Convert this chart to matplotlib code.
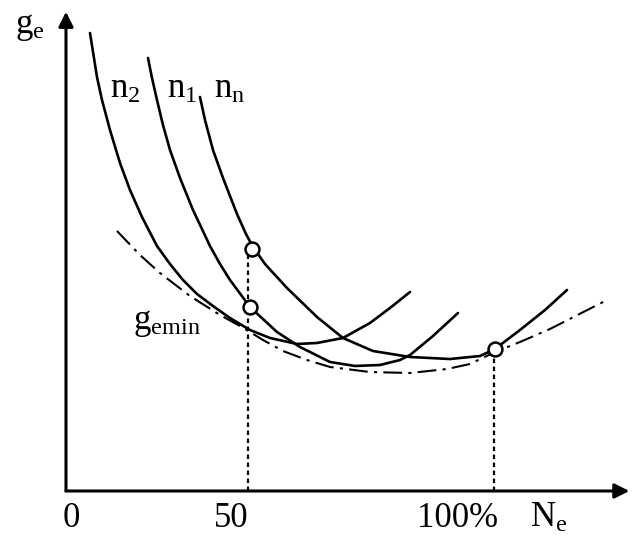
import matplotlib.pyplot as plt

plt.rcParams['font.family'] = ['Liberation Serif', 'DejaVu Serif']
plt.rcParams['mathtext.fontset'] = 'custom'
plt.rcParams['mathtext.rm'] = 'Liberation Serif'
plt.rcParams['mathtext.it'] = 'Liberation Serif'

# load Ne (%) and specific fuel consumption ge (relative units)
n2_x = [6.67, 8.61, 10.0, 12.22, 15.0, 17.78, 21.11, 25.28, 28.89, 32.5, 36.39, 40.83,
        45.56, 51.11, 56.67, 64.17, 69.72, 76.94, 84.44, 90.0, 95.56]
n2_y = [101.78, 92.0, 86.89, 80.22, 72.89, 66.89, 60.89, 54.44, 50.44, 46.89, 43.78, 41.11,
        38.44, 35.78, 34.0, 32.67, 32.89, 34.0, 37.33, 40.67, 44.22]

n1_x = [22.78, 23.89, 25.28, 26.94, 28.89, 31.67, 35.28, 40.0, 42.78, 45.56, 51.11, 58.61,
        65.0, 73.33, 80.28, 87.22, 92.78, 95.56, 101.94, 108.89]
n1_y = [96.22, 91.78, 86.89, 81.33, 75.78, 69.56, 62.44, 54.44, 50.44, 46.89, 40.89, 35.33,
        32.0, 28.67, 27.78, 28.0, 29.11, 30.22, 34.44, 39.56]

nn_x = [37.22, 38.61, 40.83, 43.61, 47.5, 50.0, 51.94, 55.28, 61.39, 69.72, 76.94, 85.28,
        95.56, 106.67, 115.0, 119.17, 126.11, 133.06, 139.17]
nn_y = [87.56, 82.44, 75.78, 69.56, 61.56, 57.11, 54.22, 50.44, 45.11, 38.67, 34.0, 31.11,
        29.78, 29.33, 30.0, 31.56, 35.78, 40.22, 44.67]

# envelope ge_min
env_x = [14.17, 20.56, 26.11, 34.44, 42.78, 48.33, 54.72, 60.28, 66.94, 73.33, 84.44,
         95.56, 105.83, 112.22, 119.17, 126.11, 134.44, 150.28]
env_y = [57.78, 52.44, 48.44, 43.33, 39.11, 36.67, 33.56, 31.11, 29.11, 27.56, 26.44,
         26.22, 27.11, 28.22, 30.89, 33.11, 36.0, 42.44]

pts_x = [51.67, 51.11, 119.17]
pts_y = [53.78, 40.89, 31.56]

drop_x = [50.6, 118.9]
drop_y = [53.78, 31.56]

fig = plt.figure(figsize=(6.34, 5.36), dpi=100)
ax = fig.add_axes([0, 0, 1, 1])
ax.set_xlim(-18.33, 157.78)
ax.set_ylim(-10.0, 109.11)
ax.axis('off')

# axes with arrows
arrow = dict(arrowstyle='-|>', lw=2.2, color='k', mutation_scale=22, shrinkA=0, shrinkB=0)
ax.annotate('', xy=(0, 106.5), xytext=(0, 0), arrowprops=arrow)
ax.annotate('', xy=(156.5, 0), xytext=(0, 0), arrowprops=arrow)

# drop lines
for x, y in zip(drop_x, drop_y):
    ax.plot([x, x], [0, y], color='k', lw=1.6, ls=(0, (2, 1.6)))

ax.plot(env_x, env_y, color='k', lw=1.5, ls=(0, (9, 3, 1.5, 3)))
for xs, ys in [(n2_x, n2_y), (n1_x, n1_y), (nn_x, nn_y)]:
    ax.plot(xs, ys, color='k', lw=1.9, solid_capstyle='round', solid_joinstyle='round')

ax.plot(pts_x, pts_y, 'o', ms=10, mfc='white', mec='k', mew=1.8, zorder=5)

fs = 25
ax.text(-14.2, 101.8, r'$\mathregular{g_e}$', fontsize=fs, va='baseline', ha='left')
ax.text(12.2, 87.3, r'$\mathregular{n_2}$', fontsize=fs, va='baseline', ha='left')
ax.text(28.1, 87.3, r'$\mathregular{n_1}$', fontsize=fs, va='baseline', ha='left')
ax.text(41.1, 87.3, r'$\mathregular{n_n}$', fontsize=fs, va='baseline', ha='left')
ax.text(18.6, 36.0, r'$\mathregular{g_{emin}}$', fontsize=fs, va='baseline', ha='left')

ax.text(1.4, -7.9, '0', fontsize=fs, va='baseline', ha='center')
ax.text(45.8, -7.9, '50', fontsize=fs, va='baseline', ha='center')
ax.text(108.9, -7.9, '100%', fontsize=fs, va='baseline', ha='center')
ax.text(128.9, -7.9, r'$\mathregular{N_e}$', fontsize=fs, va='baseline', ha='left')

fig.savefig('out.png', dpi=100)
